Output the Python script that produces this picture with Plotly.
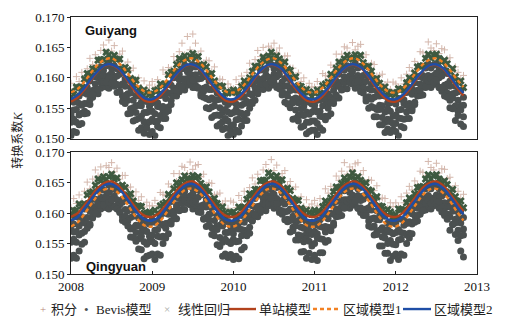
import numpy as np
import plotly.graph_objects as go

# ---------------- data (K values are given x 10^4) ----------------
YEAR_TICKS = [2008, 2009, 2010, 2011, 2012, 2013]
K_TICKS = [0.150, 0.155, 0.160, 0.165, 0.170]
K_TICK_TEXT = ["0.150", "0.155", "0.160", "0.165", "0.170"]

N_PTS = 146   # point samples, ~12 days apart (30 per year) from 2008.0
N_MON = 59    # model curves, month starts 2008-01 .. 2012-11
X_PTS = 2008 + np.arange(N_PTS) / 30.0
X_MON = 2008 + np.arange(N_MON) / 12.0
UNIT = 1e-4

# ---- Guiyang ----
GY_JIFEN = [
 1591,1582,1602,1594,1609,1599,1615,1632,1622,1638,1627,1645,1654,1642,1662,1644,1653,1634,1639,1644,1620,1626,1612,1616,1596,1600,1584,1595,1583,1588,
 1594,1585,1597,1588,1613,1606,1617,1614,1635,1628,1643,1657,1638,1668,1646,1672,1657,1638,1644,1624,1629,1628,1610,1618,1596,1598,1597,1581,1590,1584,
 1582,1597,1589,1603,1592,1609,1624,1614,1630,1645,1635,1650,1638,1652,1649,1657,1642,1649,1630,1636,1636,1616,1616,1601,1608,1594,1600,1583,1591,1585,
 1585,1594,1585,1607,1604,1602,1621,1617,1639,1626,1639,1651,1649,1639,1658,1646,1652,1655,1634,1638,1620,1624,1622,1603,1604,1606,1589,1593,1581,1593,
 1590,1584,1600,1590,1606,1617,1611,1627,1621,1643,1641,1635,1659,1649,1645,1656,1640,1648,1646,1631,1633,1613,1618,1609,1597,1604]
GY_LINREG = [
 1577,1573,1585,1584,1585,1598,1607,1606,1615,1615,1629,1630,1630,1642,1638,1631,1637,1630,1631,1615,1617,1613,1599,1596,1596,1583,1575,1580,1576,1573,
 1571,1579,1580,1590,1587,1590,1605,1609,1611,1622,1632,1629,1636,1631,1636,1640,1632,1635,1620,1622,1618,1606,1607,1595,1586,1587,1586,1575,1575,1577,
 1580,1576,1577,1586,1595,1591,1600,1611,1619,1618,1625,1634,1628,1636,1642,1632,1636,1631,1622,1626,1614,1612,1600,1602,1587,1586,1576,1581,1577,1569,
 1575,1580,1575,1587,1590,1593,1606,1604,1616,1626,1622,1631,1637,1633,1631,1638,1634,1637,1625,1618,1619,1611,1597,1599,1591,1581,1585,1576,1572,1576,
 1573,1582,1581,1580,1592,1600,1598,1608,1618,1619,1620,1632,1639,1632,1637,1639,1632,1626,1629,1623,1611,1615,1602,1593,1595,1584]
GY_BEVIS_1 = [
 1564,1560,1561,1570,1579,1575,1584,1595,1603,1602,1609,1618,1612,1620,1626,1616,1620,1615,1606,1610,1598,1596,1584,1586,1571,1570,1560,1565,1561,1553,
 1559,1564,1559,1571,1574,1577,1590,1588,1600,1610,1606,1615,1621,1617,1615,1622,1618,1621,1609,1602,1603,1595,1581,1583,1575,1565,1569,1560,1556,1560,
 1561,1557,1569,1568,1569,1582,1591,1590,1599,1599,1613,1614,1614,1626,1622,1615,1621,1614,1615,1599,1601,1597,1583,1580,1580,1567,1559,1564,1560,1557,
 1555,1563,1564,1574,1571,1574,1589,1593,1595,1606,1616,1613,1620,1615,1620,1624,1616,1619,1604,1606,1602,1590,1591,1579,1570,1571,1570,1559,1559,1561,
 1557,1566,1565,1564,1576,1584,1582,1592,1602,1603,1604,1616,1623,1616,1621,1623,1616,1610,1613,1607,1595,1599,1586,1577,1579,1568]
GY_BEVIS_2 = [
 1539,1547,1548,1558,1555,1558,1573,1577,1579,1590,1600,1597,1604,1599,1604,1608,1600,1603,1588,1590,1586,1574,1575,1563,1554,1555,1554,1543,1543,1545,
 1545,1541,1553,1552,1553,1566,1575,1574,1583,1583,1597,1598,1598,1610,1606,1599,1605,1598,1599,1583,1585,1581,1567,1564,1564,1551,1543,1548,1544,1541,
 1543,1548,1543,1555,1558,1561,1574,1572,1584,1594,1590,1599,1605,1601,1599,1606,1602,1605,1593,1586,1587,1579,1565,1567,1559,1549,1553,1544,1540,1544,
 1548,1544,1545,1554,1563,1559,1568,1579,1587,1586,1593,1602,1596,1604,1610,1600,1604,1599,1590,1594,1582,1580,1568,1570,1555,1554,1544,1549,1545,1537,
 1539,1547,1548,1558,1555,1558,1573,1577,1579,1590,1600,1597,1604,1599,1604,1608,1600,1603,1588,1590,1586,1574,1575,1563,1554,1555]
GY_BEVIS_3 = [
 1527,1532,1527,1539,1542,1545,1558,1556,1568,1578,1574,1583,1589,1585,1583,1590,1586,1589,1577,1570,1571,1563,1549,1551,1543,1533,1537,1528,1524,1528,
 1532,1528,1529,1538,1547,1543,1552,1563,1571,1570,1577,1586,1580,1588,1594,1584,1588,1583,1574,1578,1566,1564,1552,1554,1539,1538,1528,1533,1529,1521,
 1523,1531,1532,1542,1539,1542,1557,1561,1563,1574,1584,1581,1588,1583,1588,1592,1584,1587,1572,1574,1570,1558,1559,1547,1538,1539,1538,1527,1527,1529,
 1529,1525,1537,1536,1537,1550,1559,1558,1567,1567,1581,1582,1582,1594,1590,1583,1589,1582,1583,1567,1569,1565,1551,1548,1548,1535,1527,1532,1528,1525,
 1525,1534,1533,1532,1544,1552,1550,1560,1570,1571,1572,1584,1591,1584,1589,1591,1584,1578,1581,1575,1563,1567,1554,1545,1547,1536]
GY_BEVIS_4 = [
 1505,1512,1510,1523,1525,1541,1542,1564,1573,1582,1581,1593,1593,1593,1600,1592,1592,1576,1578,1561,1558,1541,1542,1529,1531,1514,1518,1509,1517,1507,
 1512,1505,1520,1518,1533,1533,1546,1556,1579,1579,1588,1585,1595,1599,1593,1596,1584,1584,1570,1568,1551,1549,1535,1538,1521,1524,1515,1517,1505,1512,
 1507,1514,1511,1521,1530,1530,1550,1558,1576,1576,1591,1589,1590,1600,1594,1598,1586,1582,1577,1560,1557,1551,1532,1533,1529,1519,1521,1508,1512,1514,
 1514,1507,1518,1514,1531,1537,1541,1563,1572,1586,1580,1592,1597,1592,1597,1593,1595,1577,1575,1562,1550,1553,1536,1536,1523,1523,1510,1516,1510,1515,
 1512,1505,1520,1518,1533,1533,1546,1556,1579,1579,1588,1585,1595,1599,1593,1596,1584,1584,1570,1568,1551,1549,1530,1538,1524,1520]
GY_SINGLE = [
 1561,1568,1581,1597,1611,1620,1621,1615,1601,1585,1571,1562,
 1561,1568,1581,1597,1611,1620,1621,1615,1601,1585,1571,1562,
 1561,1568,1581,1597,1611,1620,1621,1615,1601,1585,1571,1562,
 1561,1568,1581,1597,1611,1620,1621,1615,1601,1585,1571,1562,
 1561,1568,1581,1597,1611,1620,1621,1615,1601,1585,1571]
GY_REGION1 = [
 1576,1582,1594,1609,1622,1630,1632,1625,1613,1598,1585,1577,
 1576,1582,1594,1609,1622,1630,1632,1625,1613,1598,1585,1577,
 1576,1582,1594,1609,1622,1630,1632,1625,1613,1598,1585,1577,
 1576,1582,1594,1609,1622,1630,1632,1625,1613,1598,1585,1577,
 1576,1582,1594,1609,1622,1630,1632,1625,1613,1598,1585]
GY_REGION2 = [
 1565,1572,1584,1599,1612,1621,1622,1616,1603,1588,1575,1566,
 1565,1572,1584,1599,1612,1621,1622,1616,1603,1588,1575,1566,
 1565,1572,1584,1599,1612,1621,1622,1616,1603,1588,1575,1566,
 1565,1572,1584,1599,1612,1621,1622,1616,1603,1588,1575,1566,
 1565,1572,1584,1599,1612,1621,1622,1616,1603,1588,1575]

# ---- Qingyuan ----
QY_JIFEN = [
 1609,1624,1616,1630,1619,1636,1651,1640,1656,1671,1661,1676,1664,1678,1675,1683,1668,1674,1656,1662,1662,1642,1643,1628,1635,1621,1627,1610,1618,1612,
 1612,1621,1612,1634,1631,1629,1648,1643,1665,1652,1665,1677,1675,1665,1684,1672,1678,1680,1660,1664,1646,1650,1649,1630,1631,1633,1616,1620,1608,1620,
 1618,1609,1629,1621,1636,1626,1642,1658,1648,1664,1653,1671,1680,1668,1688,1670,1679,1659,1665,1670,1646,1652,1639,1643,1623,1627,1611,1622,1610,1615,
 1621,1612,1624,1615,1640,1633,1644,1640,1661,1654,1669,1683,1664,1676,1672,1681,1683,1663,1670,1650,1655,1654,1637,1645,1623,1625,1624,1608,1617,1611,
 1617,1611,1627,1617,1633,1644,1638,1653,1647,1669,1667,1661,1685,1675,1671,1682,1666,1673,1672,1657,1659,1639,1645,1636,1624,1631]
QY_LINREG = [
 1596,1604,1605,1615,1612,1615,1630,1633,1635,1646,1656,1653,1660,1655,1660,1664,1656,1658,1644,1646,1642,1630,1632,1620,1611,1612,1611,1600,1600,1602,
 1600,1605,1600,1612,1615,1618,1631,1628,1640,1650,1646,1655,1661,1657,1655,1662,1658,1660,1649,1642,1643,1635,1622,1624,1616,1606,1610,1601,1597,1601,
 1602,1598,1610,1609,1610,1623,1632,1630,1639,1639,1653,1654,1654,1666,1662,1655,1661,1653,1655,1639,1641,1637,1624,1621,1621,1608,1600,1605,1601,1598,
 1605,1601,1602,1611,1620,1616,1625,1635,1643,1642,1649,1658,1652,1660,1666,1656,1660,1654,1646,1650,1638,1636,1625,1627,1612,1611,1601,1606,1602,1594,
 1598,1607,1606,1605,1617,1625,1623,1632,1642,1643,1644,1656,1663,1656,1661,1663,1656,1649,1653,1647,1635,1639,1627,1618,1620,1609]
QY_BEVIS_1 = [
 1586,1582,1594,1593,1594,1607,1616,1614,1623,1623,1637,1638,1638,1650,1646,1639,1645,1637,1639,1623,1625,1621,1608,1605,1605,1592,1584,1589,1585,1582,
 1589,1585,1586,1595,1604,1600,1609,1619,1627,1626,1633,1642,1636,1644,1650,1640,1644,1638,1630,1634,1622,1620,1609,1611,1596,1595,1585,1590,1586,1578,
 1584,1589,1584,1596,1599,1602,1615,1612,1624,1634,1630,1639,1645,1641,1639,1646,1642,1644,1633,1626,1627,1619,1606,1608,1600,1590,1594,1585,1581,1585,
 1580,1588,1589,1599,1596,1599,1614,1617,1619,1630,1640,1637,1644,1639,1644,1648,1640,1642,1628,1630,1626,1614,1616,1604,1595,1596,1595,1584,1584,1586,
 1582,1591,1590,1589,1601,1609,1607,1616,1626,1627,1628,1640,1647,1640,1645,1647,1640,1633,1637,1631,1619,1623,1611,1602,1604,1593]
QY_BEVIS_2 = [
 1573,1569,1570,1579,1588,1584,1593,1603,1611,1610,1617,1626,1620,1628,1634,1624,1628,1622,1614,1618,1606,1604,1593,1595,1580,1579,1569,1574,1570,1562,
 1564,1572,1573,1583,1580,1583,1598,1601,1603,1614,1624,1621,1628,1623,1628,1632,1624,1626,1612,1614,1610,1598,1600,1588,1579,1580,1579,1568,1568,1570,
 1566,1575,1574,1573,1585,1593,1591,1600,1610,1611,1612,1624,1631,1624,1629,1631,1624,1617,1621,1615,1603,1607,1595,1586,1588,1577,1575,1566,1571,1565,
 1570,1566,1578,1577,1578,1591,1600,1598,1607,1607,1621,1622,1622,1634,1630,1623,1629,1621,1623,1607,1609,1605,1592,1589,1589,1576,1568,1573,1569,1566,
 1568,1573,1568,1580,1583,1586,1599,1596,1608,1618,1614,1623,1629,1625,1623,1630,1626,1628,1617,1610,1611,1603,1590,1592,1584,1574]
QY_BEVIS_3 = [
 1552,1557,1552,1564,1567,1570,1583,1580,1592,1602,1598,1607,1613,1609,1607,1614,1610,1612,1601,1594,1595,1587,1574,1576,1568,1558,1562,1553,1549,1553,
 1554,1550,1562,1561,1562,1575,1584,1582,1591,1591,1605,1606,1606,1618,1614,1607,1613,1605,1607,1591,1593,1589,1576,1573,1573,1560,1552,1557,1553,1550,
 1557,1553,1554,1563,1572,1568,1577,1587,1595,1594,1601,1610,1604,1612,1618,1608,1612,1606,1598,1602,1590,1588,1577,1579,1564,1563,1553,1558,1554,1546,
 1550,1559,1558,1557,1569,1577,1575,1584,1594,1595,1596,1608,1615,1608,1613,1615,1608,1601,1605,1599,1587,1591,1579,1570,1572,1561,1559,1550,1555,1549,
 1548,1556,1557,1567,1564,1567,1582,1585,1587,1598,1608,1605,1612,1607,1612,1616,1608,1610,1596,1598,1594,1582,1584,1572,1563,1564]
QY_BEVIS_4 = [
 1526,1531,1526,1538,1549,1552,1575,1582,1600,1600,1615,1613,1614,1624,1618,1622,1610,1607,1603,1588,1585,1579,1561,1560,1554,1541,1540,1525,1529,1531,
 1533,1524,1533,1531,1550,1559,1566,1587,1596,1610,1604,1616,1621,1616,1621,1617,1619,1602,1601,1590,1578,1581,1565,1563,1548,1545,1529,1533,1527,1532,
 1524,1529,1525,1540,1544,1563,1567,1588,1597,1606,1605,1617,1617,1617,1624,1616,1616,1601,1604,1589,1586,1569,1571,1556,1556,1536,1537,1526,1534,1524,
 1531,1522,1535,1535,1552,1555,1571,1580,1603,1603,1612,1609,1619,1623,1617,1620,1608,1609,1596,1596,1579,1577,1564,1565,1546,1546,1534,1534,1522,1529,
 1533,1524,1533,1531,1550,1559,1566,1587,1596,1610,1604,1616,1621,1616,1621,1617,1619,1602,1601,1590,1572,1581,1565,1555,1538,1528]
QY_SINGLE = [
 1594,1600,1613,1628,1642,1650,1652,1645,1632,1617,1603,1595,
 1594,1600,1613,1628,1642,1650,1652,1645,1632,1617,1603,1595,
 1594,1600,1613,1628,1642,1650,1652,1645,1632,1617,1603,1595,
 1594,1600,1613,1628,1642,1650,1652,1645,1632,1617,1603,1595,
 1594,1600,1613,1628,1642,1650,1652,1645,1632,1617,1603]
QY_REGION1 = [
 1578,1585,1599,1615,1630,1639,1640,1633,1620,1603,1588,1579,
 1578,1585,1599,1615,1630,1639,1640,1633,1620,1603,1588,1579,
 1578,1585,1599,1615,1630,1639,1640,1633,1620,1603,1588,1579,
 1578,1585,1599,1615,1630,1639,1640,1633,1620,1603,1588,1579,
 1578,1585,1599,1615,1630,1639,1640,1633,1620,1603,1588]
QY_REGION2 = [
 1588,1594,1608,1623,1637,1646,1648,1641,1628,1612,1598,1589,
 1588,1594,1608,1623,1637,1646,1648,1641,1628,1612,1598,1589,
 1588,1594,1608,1623,1637,1646,1648,1641,1628,1612,1598,1589,
 1588,1594,1608,1623,1637,1646,1648,1641,1628,1612,1598,1589,
 1588,1594,1608,1623,1637,1646,1648,1641,1628,1612,1598]

SERIES_NAMES = ["积分", "Bevis模型", "线性回归", "单站模型", "区域模型1", "区域模型2"]
STATIONS = ["Guiyang", "Qingyuan"]

# ---------------- style ----------------
C_JIFEN = "#cdac9f"
C_BEVIS = "#4b5050"
C_LINREG = "#3e5a40"
C_SINGLE = "#b2421c"
C_REG1 = "#f28123"
C_REG2 = "#1f4ea6"
SERIF = "Liberation Serif, Noto Sans CJK SC"
CJK = "Liberation Serif, Noto Sans CJK SC"

W, H = 513, 328
ML, MR, MT, MB = 71, 36, 10, 54
PW, PH = W - ML - MR, H - MT - MB


def px_x(px):
    return (px - ML) / PW


def px_y(py):
    return (H - MB - py) / PH


fig = go.Figure()

panels = [
    ("x", "y", GY_JIFEN, GY_LINREG, [GY_BEVIS_1, GY_BEVIS_2, GY_BEVIS_3, GY_BEVIS_4],
     GY_SINGLE, GY_REGION1, GY_REGION2),
    ("x2", "y2", QY_JIFEN, QY_LINREG, [QY_BEVIS_1, QY_BEVIS_2, QY_BEVIS_3, QY_BEVIS_4],
     QY_SINGLE, QY_REGION1, QY_REGION2),
]

for xa, ya, jifen, linreg, bevis, single, reg1, reg2 in panels:
    fig.add_trace(go.Scatter(
        x=X_PTS, y=np.array(jifen) * UNIT, xaxis=xa, yaxis=ya, mode="markers",
        name=SERIES_NAMES[0], showlegend=False, opacity=0.85,
        marker=dict(symbol="cross-thin", size=5, line=dict(width=1, color=C_JIFEN))))
    bev = np.concatenate([np.array(b) for b in bevis]) * UNIT
    fig.add_trace(go.Scatter(
        x=np.tile(X_PTS, len(bevis)), y=bev, xaxis=xa, yaxis=ya, mode="markers",
        name=SERIES_NAMES[1], showlegend=False,
        marker=dict(symbol="circle", size=7, color=C_BEVIS, line=dict(width=0))))
    fig.add_trace(go.Scatter(
        x=X_PTS, y=np.array(linreg) * UNIT, xaxis=xa, yaxis=ya, mode="markers",
        name=SERIES_NAMES[2], showlegend=False,
        marker=dict(symbol="x", size=7, color=C_LINREG, line=dict(width=0))))
    fig.add_trace(go.Scatter(
        x=X_MON, y=np.array(single) * UNIT, xaxis=xa, yaxis=ya, mode="lines",
        name=SERIES_NAMES[3], showlegend=False,
        line=dict(color=C_SINGLE, width=2.4, shape="spline")))
    fig.add_trace(go.Scatter(
        x=X_MON, y=np.array(reg1) * UNIT, xaxis=xa, yaxis=ya, mode="lines",
        name=SERIES_NAMES[4], showlegend=False,
        line=dict(color=C_REG1, width=2.4, dash="4px,3px", shape="spline")))
    fig.add_trace(go.Scatter(
        x=X_MON, y=np.array(reg2) * UNIT, xaxis=xa, yaxis=ya, mode="lines",
        name=SERIES_NAMES[5], showlegend=False,
        line=dict(color=C_REG2, width=2.4, shape="spline")))

axis_common = dict(showline=True, linecolor="#222", linewidth=1, mirror=True,
                   showgrid=False, zeroline=False)
xcommon = dict(range=[2008, 2013], tickvals=YEAR_TICKS, ticks="inside", ticklen=3,
               tickcolor="#222", tickfont=dict(family=SERIF, size=13, color="#111"),
               **axis_common)
ycommon = dict(range=[0.150, 0.170], tickvals=K_TICKS, ticktext=K_TICK_TEXT,
               ticks="outside", ticklen=3, tickcolor="#222",
               tickfont=dict(family=SERIF, size=13, color="#111"), **axis_common)

top_dom = [px_y(135), px_y(10)]
bot_dom = [px_y(274), px_y(149)]

fig.update_layout(
    width=W, height=H, margin=dict(l=ML, r=MR, t=MT, b=MB),
    paper_bgcolor="white", plot_bgcolor="white", showlegend=False,
    font=dict(family=SERIF, color="#111"),
    xaxis=dict(anchor="y", showticklabels=False, **xcommon),
    yaxis=dict(anchor="x", domain=top_dom, **ycommon),
    xaxis2=dict(anchor="y2", showticklabels=True, **xcommon),
    yaxis2=dict(anchor="x2", domain=bot_dom, **ycommon),
)

ann = [
    dict(text="<b>" + STATIONS[0] + "</b>", x=px_x(83), y=px_y(24), xanchor="left",
         yanchor="middle", font=dict(family="Liberation Sans", size=13, color="#111")),
    dict(text="<b>" + STATIONS[1] + "</b>", x=px_x(84), y=px_y(266.5), xanchor="left",
         yanchor="middle", font=dict(family="Liberation Sans", size=13, color="#111")),
    dict(text="转换系数<i>K</i>", x=px_x(18), y=px_y(137), textangle=-90,
         xanchor="center", yanchor="middle", font=dict(family=CJK, size=12, color="#222")),
]

LEG_Y = 310
# legend: glyph keys and labels
ann += [
    dict(text="+", x=px_x(43), y=px_y(LEG_Y), xanchor="center", yanchor="middle",
         font=dict(family=SERIF, size=11, color="#b98a78")),
    dict(text=SERIES_NAMES[0], x=px_x(49), y=px_y(LEG_Y), xanchor="left", yanchor="middle",
         font=dict(family=CJK, size=13, color="#222")),
    dict(text="•", x=px_x(86), y=px_y(LEG_Y), xanchor="center", yanchor="middle",
         font=dict(family=SERIF, size=13, color=C_BEVIS)),
    dict(text=SERIES_NAMES[1], x=px_x(94), y=px_y(LEG_Y), xanchor="left", yanchor="middle",
         font=dict(family=CJK, size=13, color="#222")),
    dict(text="×", x=px_x(167), y=px_y(LEG_Y), xanchor="center", yanchor="middle",
         font=dict(family=SERIF, size=11, color="#a9aaa6")),
    dict(text=SERIES_NAMES[2], x=px_x(176), y=px_y(LEG_Y), xanchor="left", yanchor="middle",
         font=dict(family=CJK, size=13, color="#222")),
    dict(text=SERIES_NAMES[3], x=px_x(257), y=px_y(LEG_Y), xanchor="left", yanchor="middle",
         font=dict(family=CJK, size=13, color="#222")),
    dict(text=SERIES_NAMES[4], x=px_x(341), y=px_y(LEG_Y), xanchor="left", yanchor="middle",
         font=dict(family=CJK, size=13, color="#222")),
    dict(text=SERIES_NAMES[5], x=px_x(432), y=px_y(LEG_Y), xanchor="left", yanchor="middle",
         font=dict(family=CJK, size=13, color="#222")),
]
for a in ann:
    a.update(xref="paper", yref="paper", showarrow=False)

shapes = [
    dict(type="line", x0=px_x(229), x1=px_x(256), y0=px_y(LEG_Y), y1=px_y(LEG_Y),
         line=dict(color=C_SINGLE, width=2.4)),
    dict(type="line", x0=px_x(313), x1=px_x(340), y0=px_y(LEG_Y), y1=px_y(LEG_Y),
         line=dict(color=C_REG1, width=2.4, dash="4px,3px")),
    dict(type="line", x0=px_x(403), x1=px_x(431), y0=px_y(LEG_Y), y1=px_y(LEG_Y),
         line=dict(color=C_REG2, width=2.4)),
]
for s in shapes:
    s.update(xref="paper", yref="paper")

fig.update_layout(annotations=ann, shapes=shapes)

fig.write_html("out.html")
